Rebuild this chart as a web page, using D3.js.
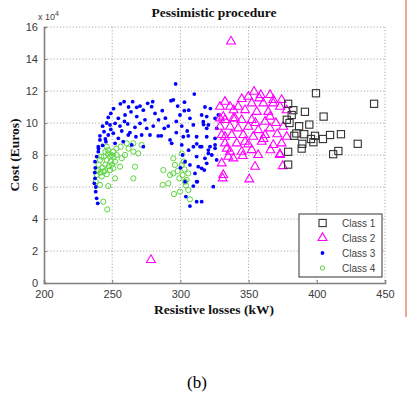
<!DOCTYPE html>
<html>
<head>
<meta charset="utf-8">
<script src="https://cdn.jsdelivr.net/npm/d3@7"></script>
<style>
  html, body { margin: 0; padding: 0; background: #fff; }
  svg { display: block; }
</style>
</head>
<body>
<svg id="chart" width="408" height="400"></svg>
<script>
// Axis ticks
const xTicks = [200, 250, 300, 350, 400, 450];
const yTicks = [0, 2, 4, 6, 8, 10, 12, 14, 16];   // cost in units of 10^4 euros

const classNames = ["Class 1", "Class 2", "Class 3", "Class 4"];

// Class 1: [resistive losses kW, cost x10^4 euros]
const class1 = [
  [399.4,11.86],[442,11.2],[379,11.2],[382.8,10.8],[381.6,10.5],[391.3,10.7],[405,10.4],
  [378,10.2],[380,10.0],[387,9.8],[394.5,9.9],[383.5,9.2],[390.8,9.3],[398.7,9.2],
  [395.7,9.0],[409.7,9.25],[417.7,9.3],[404.5,9.0],[389.4,8.7],[397.5,8.8],[430,8.7],
  [379,8.2],[388.9,8.4],[412,8.05],[415.8,8.25],[379,7.4],[385,9.35]
];

// Class 2
const class2 = [
  [337.1,15.1],[278.4,1.44],
  [354,11.96],[349.8,11.64],[358.9,11.75],[365.7,11.75],[332.7,11.33],[336.4,11.02],
  [342.4,11.02],[352.3,11.23],[360.8,11.23],[368.1,11.23],[347.4,10.81],[356,10.7],
  [364.4,10.7],[329,10.29],[332.7,10.19],[340,10.29],[344.9,10.19],[352.3,10.19],
  [362,10.08],[336.4,9.77],[342.4,9.67],[349.8,9.77],[357.1,9.56],[365.7,9.67],
  [330.3,9.25],[337.6,9.25],[346.1,9.25],[353.4,9.14],[362,9.25],[332.7,8.73],
  [341.3,8.73],[349.8,8.67],[359.6,8.83],[368.1,8.63],[336.4,8.21],[352.3,8.31],
  [344.9,8.21],[357.8,11.54],[368.1,11.44],[374.2,11.44],[373,11.02],[377.9,10.8],
  [329,11.02],[331.4,10.4],[338.8,10.29],[365.7,10.4],[375.4,9.77],[377.9,9.14],
  [374.2,8.73],[373,8.06],[347.4,8.83],[332.7,9.14],[329,9.77],[330.3,7.48],
  [331.4,6.75],[331,6.54],[350.5,6.48],[354.7,7.27],[345.7,7.94],[373,8.0],
  [375,7.31],[338.8,7.79],[335.1,7.89],[339,10.8],[355,10.0],[370,10.0],[361,9.0],
  [345,11.5],[371,9.3],[334,8.4],[357,8.0],[366,8.3]
];

// Class 3
const class3 = [
  [296.5,12.44],[310.2,11.81],[258.7,11.33],[265,11.33],[270.4,11.06],[276,11.23],
  [279.7,11.33],[278.9,11.02],[293.1,11.39],[294.8,11.44],[298,11.06],[302.9,10.77],
  [306.1,10.8],[315.6,10.5],[307,10.29],[299.7,10.5],[286.7,10.77],[281.4,10.6],
  [272.8,10.8],[268,10.98],[263.8,10.7],[259.4,10.5],[254.5,10.29],[247.1,10.35],
  [248.4,9.88],[252.1,9.98],[255.7,9.81],[261.4,9.94],[266.7,9.73],[270.4,9.98],
  [275.3,9.67],[280.1,9.81],[288.2,9.67],[291.1,9.81],[301,9.81],[309.5,9.88],
  [316.8,10.08],[319.3,9.67],[244,9.46],[247.1,9.25],[250.8,9.36],[254.5,9.04],
  [261.8,9.25],[267.4,9.14],[271.6,9.25],[277.7,9.25],[283.8,9.19],[292.4,8.94],
  [302.1,9.14],[305.8,9.19],[311.9,9.14],[241,8.94],[245.4,8.83],[252.1,8.73],
  [258.1,8.83],[264.3,8.63],[272.8,8.52],[293.6,8.73],[301,8.63],[309.5,8.52],
  [315.6,8.52],[320.5,8.1],[239.8,8.52],[239.8,8.21],[238.6,7.9],[237.4,7.58],
  [237.4,6.54],[236.9,6.23],[237.9,5.71],[238.6,5.29],[239.4,4.98],[237.6,7.2],
  [237.2,6.9],[238,6.0],[301.6,8.0],[303.4,7.58],[311.9,7.9],[307,7.38],[313.1,7.27],
  [319.3,7.48],[318,7.79],[312.4,6.33],[309.5,6.06],[303.4,6.33],[311.9,5.08],
  [315.6,5.08],[307,4.81],[317.5,7.06],[314.4,8.52],[320.5,8.31],[325.4,8.63],
  [323,8.0],[315.6,7.17],[326.6,7.69],[310.7,6.85],[311.9,6.33],[324.1,6.02],
  [319.3,10.4],[325.4,10.29],[327.8,10.5],[320.5,9.88],[326.6,9.67],[319.3,9.14],
  [325.4,9.04],[321.7,8.52],[325.4,8.42],[243,9.8],[246,10.0],[249,10.6],[251,10.9],
  [256,11.2],[262,11.0],[245,9.0],[249,9.6],[257,9.5],[259,10.1],[263,9.4],[268,10.4],
  [274,10.2],[284,10.2],[289,10.3],[286,9.2],[297,9.4],[305,9.5],[297,10.1],
  [303,11.3],[241,9.2],[243,8.6],[240,8.4],[300,7.2],[306,8.3],[312,8.7],[317,9.9],
  [322,10.9],[318,11.0],[304,5.4]
];

// Class 4
const class4 = [
  [247.1,8.1],[253.3,8.0],[259.4,8.0],[265.5,8.21],[269.1,8.1],[241,7.69],[246,7.69],
  [252.1,7.58],[255.7,7.27],[266.7,7.27],[239.8,7.06],[243.5,6.96],[248.4,7.06],
  [250.8,7.17],[238.6,6.75],[242.3,6.65],[252.1,6.54],[265.5,6.54],[241,6.13],
  [247.1,6.06],[243.5,5.08],[246.4,4.6],[237.9,6.33],[246,8.52],[250.8,8.21],
  [256.2,8.52],[260.6,8.73],[265.5,8.73],[271.6,8.63],[248.4,7.9],[244,7.9],[245,7.4],
  [249,7.6],[247,8.3],[251,7.9],[243,7.2],[240,7.4],[244.5,7.0],[246,6.8],[249.5,8.0],
  [257,7.8],[262,8.4],[245,8.2],[247.5,7.3],[242,7.9],[239,7.0],[241.5,6.9],[253,8.4],
  [250,7.4],
  [287.5,7.06],[292.4,6.75],[296,7.38],[294.8,7.79],[301,7.38],[301.6,6.75],
  [304.6,6.44],[305.8,6.85],[299.2,6.54],[291.1,6.23],[287,6.13],[299.7,5.71],
  [295.3,5.56],[305.8,5.81],[307,5.23],[301,8.1],[303,7.1],[298,7.0],[302.5,7.6],
  [304,6.1],[294.8,6.85],[303.4,6.33]
];

const svg = d3.select("#chart");
const plotLeft = 44, plotRight = 385, plotTop = 27, plotBottom = 283;

const x = d3.scaleLinear().domain([200, 450]).range([plotLeft, plotRight]);
const y = d3.scaleLinear().domain([0, 16]).range([plotBottom, plotTop]);

// dotted grid
const grid = svg.append("g").attr("stroke", "#9a9a9a").attr("stroke-width", 1)
  .attr("stroke-dasharray", "1,2.2");
grid.selectAll(".gx").data(xTicks.slice(1)).join("line")
  .attr("x1", d => x(d)).attr("x2", d => x(d)).attr("y1", plotTop).attr("y2", plotBottom);
grid.selectAll(".gy").data(yTicks.slice(1)).join("line")
  .attr("x1", plotLeft).attr("x2", plotRight).attr("y1", d => y(d)).attr("y2", d => y(d));

// axes (ticks pointing inward)
const axisFont = "Liberation Sans, Arial, sans-serif";
const xAxis = svg.append("g").attr("transform", `translate(0,${plotBottom})`)
  .call(d3.axisBottom(x).tickValues(xTicks).tickSize(-3).tickPadding(7).tickFormat(d3.format("d")));
const yAxis = svg.append("g").attr("transform", `translate(${plotLeft},0)`)
  .call(d3.axisLeft(y).tickValues(yTicks).tickSize(-3).tickPadding(6).tickFormat(d3.format("d")));
[xAxis, yAxis].forEach(a => {
  a.select(".domain").attr("stroke", "#808080").attr("stroke-width", 1.6);
  a.selectAll(".tick line").attr("stroke", "#808080");
  a.selectAll(".tick text").attr("fill", "#3a3a3a").style("font-family", axisFont).style("font-size", "11px");
});

// exponent label
const expo = svg.append("text").attr("x", plotLeft - 6).attr("y", 20)
  .attr("fill", "#444").style("font-family", axisFont).style("font-size", "9px");
expo.append("tspan").text("x 10");
expo.append("tspan").attr("dy", -4).style("font-size", "7px").text("4");

// markers
const plot = svg.append("g");
plot.selectAll(".c4").data(class4).join("circle")
  .attr("cx", d => x(d[0])).attr("cy", d => y(d[1])).attr("r", 2.6)
  .attr("fill", "none").attr("stroke", "#5ad63e").attr("stroke-width", 1);
plot.selectAll(".c3").data(class3).join("circle")
  .attr("cx", d => x(d[0])).attr("cy", d => y(d[1])).attr("r", 1.9)
  .attr("fill", "#0000ff");
const tri = d3.symbol().type(d3.symbolTriangle).size(34);
plot.selectAll(".c2").data(class2).join("path")
  .attr("d", tri).attr("transform", d => `translate(${x(d[0])},${y(d[1])})`)
  .attr("fill", "none").attr("stroke", "#ff00ff").attr("stroke-width", 1.1);
plot.selectAll(".c1").data(class1).join("rect")
  .attr("x", d => x(d[0]) - 3.6).attr("y", d => y(d[1]) - 3.6)
  .attr("width", 7.2).attr("height", 7.2)
  .attr("fill", "none").attr("stroke", "#333").attr("stroke-width", 1.1);

// legend
const lg = svg.append("g").attr("transform", "translate(299,214)");
lg.append("rect").attr("width", 83).attr("height", 63).attr("fill", "#fff")
  .attr("stroke", "#555").attr("stroke-width", 1.2);
const rows = lg.selectAll(".row").data(classNames).join("g")
  .attr("transform", (d, i) => `translate(0,${9 + i * 15})`);
rows.append("text").attr("x", 43).attr("y", 4).text(d => d)
  .attr("fill", "#444").style("font-family", axisFont).style("font-size", "10px");
rows.filter((d, i) => i === 0).append("rect")
  .attr("x", 20).attr("y", -3.6).attr("width", 7.2).attr("height", 7.2)
  .attr("fill", "none").attr("stroke", "#333").attr("stroke-width", 1.1);
rows.filter((d, i) => i === 1).append("path").attr("d", tri).attr("transform", "translate(23.5,0)")
  .attr("fill", "none").attr("stroke", "#ff00ff").attr("stroke-width", 1.1);
rows.filter((d, i) => i === 2).append("circle").attr("cx", 23.5).attr("r", 1.9).attr("fill", "#0000ff");
rows.filter((d, i) => i === 3).append("circle").attr("cx", 23.5).attr("r", 2.2)
  .attr("fill", "none").attr("stroke", "#5ad63e").attr("stroke-width", 1);

// titles
const serif = "Liberation Serif, Times New Roman, serif";
svg.append("text").attr("x", 214).attr("y", 17).attr("text-anchor", "middle")
  .style("font-family", serif).style("font-weight", "bold").style("font-size", "13.5px")
  .attr("fill", "#111").text("Pessimistic procedure");
svg.append("text").attr("x", 214).attr("y", 314).attr("text-anchor", "middle")
  .style("font-family", serif).style("font-weight", "bold").style("font-size", "13.5px")
  .attr("fill", "#111").text("Resistive losses (kW)");
svg.append("text").attr("transform", "translate(19,155) rotate(-90)").attr("text-anchor", "middle")
  .style("font-family", serif).style("font-weight", "bold").style("font-size", "13.5px")
  .attr("fill", "#111").text("Cost (Euros)");
svg.append("text").attr("x", 197).attr("y", 388).attr("text-anchor", "middle")
  .style("font-family", serif).style("font-size", "17px").attr("fill", "#000").text("(b)");

// right margin rule
svg.append("line").attr("x1", 406).attr("x2", 406).attr("y1", 0).attr("y2", 317)
  .attr("stroke", "#f0857a").attr("stroke-width", 1.5);
</script>
</body>
</html>
